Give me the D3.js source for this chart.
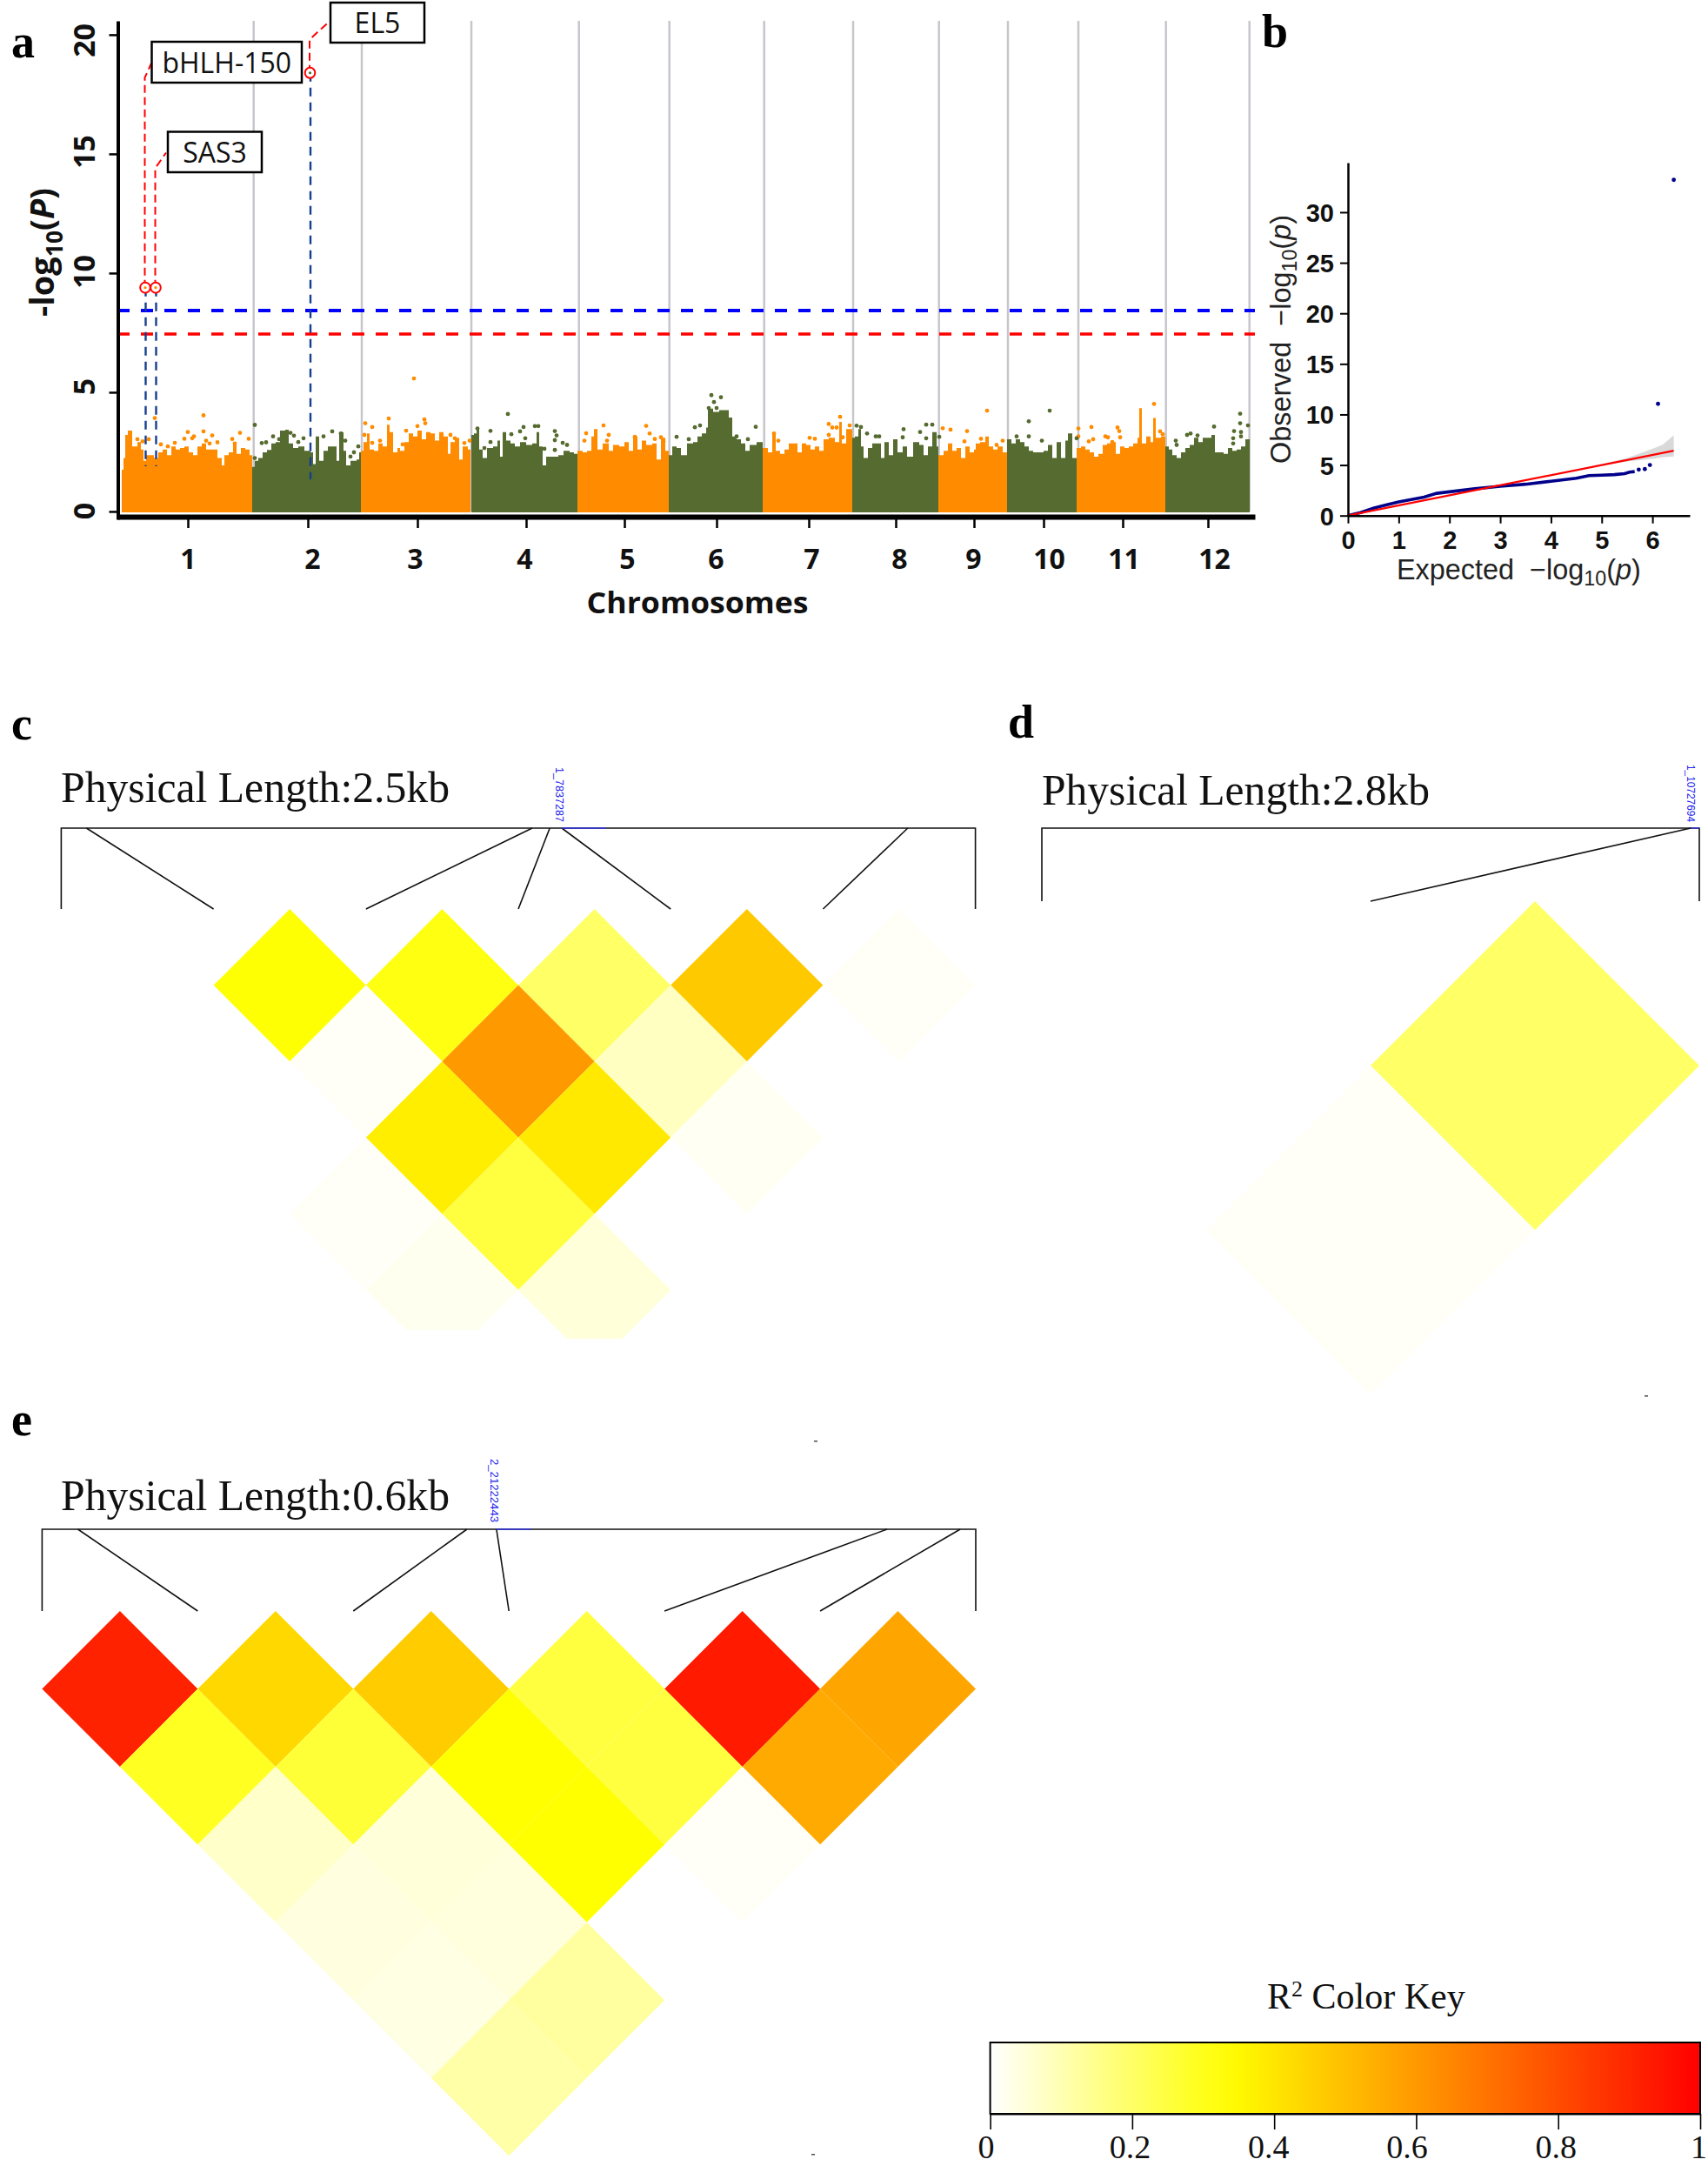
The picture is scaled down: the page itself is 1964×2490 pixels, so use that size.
<!DOCTYPE html>
<html><head><meta charset="utf-8">
<script src="https://cdn.jsdelivr.net/npm/d3@7/dist/d3.min.js"></script>
<style>html,body{margin:0;padding:0;background:#fff}svg{display:block}</style>
</head><body><svg id="c" width="1964" height="2490"></svg>
<script>
// ---------- Panel a: Manhattan plot (positions in genome units, values -log10 P) ----------
const chromosomes = ["1","2","3","4","5","6","7","8","9","10","11","12"];
const chromTicks  = [77,215,341,466,579,685,791,891,981,1061,1152,1250];
const chromLabelAt= [77,220,338,464,582,684,794,895,980,1067,1153,1257];
const chromEnds   = [152.7,277,403,526.7,630.7,739.7,842,940.7,1020,1101,1201.7,1297.7];
const yTicksA = [0,5,10,15,20];
const yTickShiftA = [-1,-7,-2,-3,6];
const blueThreshold = 8.43, redThreshold = 7.44;

const chr1Pos=[1,3,5,8,11,13,16,19,23,26,29,33,38,43,48,53,58,63,68,73,78,83,88,93,98,104,111,116,119,124,129,133,138,143,148,151];
const chr1Top=[1.75,2.24,3.21,3.39,3.39,2.73,2.73,2.91,2.6,2.12,2.36,2.36,2.24,2.48,2.6,2.36,2.73,2.6,2.66,2.73,2.48,2.36,2.73,2.85,2.6,2.6,2.24,1.93,2.36,2.48,2.85,2.42,2.66,2.6,2.36,2.36];
const chr2Pos=[151,154,158,163,168,173,178,183,189,193,198,204,211,218,221,224,228,233,238,243,248,251,256,259,264,271,274,276];
const chr2Top=[1.87,2.12,2.24,2.48,2.58,2.85,2.91,3.39,3.43,2.85,2.66,2.73,2.54,2.48,1.99,3.15,2.12,2.54,2.73,2.73,2.12,3.33,2.54,1.93,2.12,2.18,2.48,2.54];
const chr3Pos=[276,279,283,286,291,296,301,306,309,313,318,321,323,326,331,336,341,346,351,356,361,366,371,376,379,384,389,393,399,402];
const chr3Top=[2.54,2.91,3.27,2.6,2.54,2.85,2.73,3.64,3.33,2.48,2.66,2.54,2.54,2.91,3.27,3.15,3.39,3.03,3.33,3.27,2.97,3.33,3.15,2.42,2.91,3.09,2.18,2.73,2.6,2.97];
const chr4Pos=[403,406,409,412,416,421,428,433,436,439,443,448,453,459,466,473,478,481,485,489,496,503,509,516,521,525];
const chr4Top=[3.21,3.27,3.46,2.6,2.24,2.66,2.73,2.97,2.3,3.33,2.97,2.85,2.73,2.91,2.79,2.85,3.33,2.73,1.93,2.3,2.3,2.36,2.54,2.48,2.42,2.24];
const chr5Pos=[525,531,536,541,544,548,554,561,566,573,579,584,589,594,599,604,611,616,621,626,630];
const chr5Top=[2.54,2.48,2.54,3.15,3.46,2.6,2.85,2.54,2.79,2.73,2.91,2.54,3.15,2.6,2.97,2.79,2.85,2.18,3.09,2.54,2.36];
const chr6Pos=[630,634,639,644,651,658,663,668,673,675,681,688,694,699,703,708,713,718,723,731,738];
const chr6Top=[2.36,2.73,2.66,2.36,2.85,2.91,3.15,3.27,3.52,4.31,4.18,4.25,4.25,3.94,3.15,3.03,2.85,2.54,2.79,2.91,2.3];
const chr7Pos=[738,744,749,753,758,763,768,773,778,783,788,793,798,803,808,814,821,826,829,834,841];
const chr7Top=[2.66,2.48,3.33,2.54,2.42,2.6,2.85,2.85,2.48,2.85,2.79,2.6,2.73,2.54,3.03,3.09,2.91,3.76,2.85,3.46,2.97];
const chr8Pos=[841,844,848,851,854,859,864,869,874,878,883,888,893,899,904,911,918,923,928,933,938,940];
const chr8Top=[3.09,3.15,3.46,2.73,2.24,2.66,2.85,2.85,2.24,2.91,2.36,3.03,2.48,2.73,2.3,2.91,2.79,2.36,2.73,3.33,2.73,2.36];
const chr9Pos=[940,946,951,956,961,966,971,976,981,983,988,994,998,1003,1008,1014,1019];
const chr9Top=[2.36,2.54,2.85,2.54,2.66,2.24,2.73,2.48,2.6,2.85,2.91,3.15,2.73,2.6,2.73,2.48,2.36];
const chr10Pos=[1019,1024,1029,1034,1039,1044,1049,1056,1061,1066,1071,1076,1081,1086,1089,1094,1099];
const chr10Top=[3.03,2.85,3.03,2.91,2.73,2.54,2.48,2.48,2.54,2.79,2.24,2.91,2.24,2.97,3.27,2.24,2.6];
const chr11Pos=[1099,1104,1109,1114,1119,1124,1129,1134,1139,1144,1149,1154,1159,1164,1169,1171,1174,1179,1184,1187,1190,1196,1201];
const chr11Top=[2.66,2.73,2.6,2.48,2.3,2.42,2.79,2.85,2.91,2.42,2.73,2.66,2.73,2.85,3.09,4.33,2.85,3.15,2.91,3.92,3.09,3.15,2.85];
const chr12Pos=[1201,1205,1209,1214,1219,1224,1229,1234,1239,1244,1249,1254,1258,1263,1268,1273,1278,1283,1288,1293,1298];
const chr12Top=[2.73,2.6,2.36,2.24,2.48,2.66,2.79,3.09,2.91,3.09,3.09,3.21,2.48,2.48,2.42,2.66,2.54,2.6,2.73,3.03,2.6];

const orangePos=[95,39,95,77,105,84,82,73,19,25,32,98,102,111,128,137,147,46,62,54,131,
 308,281,289,280,289,298,337,349,350,341,328,379,384,395,401,324,
 555,604,535,608,561,591,533,614,621,624,559,
 827,814,818,823,838,792,798,756,751,814,830,
 945,954,973,970,996,989,1014,1007,
 1188,1101,1101,1116,1146,1148,1149,1118,1113,1132,1135,1140,1195,1198];
const orangeVal=[4.03,3.92,3.36,3.33,3.19,3.15,3.07,3.05,3.03,2.94,3.03,2.97,2.85,2.9,3.04,3.3,3.05,2.81,2.88,2.73,2.85,
 3.9,3.7,3.54,3.21,2.88,2.97,5.58,3.86,3.7,3.58,3.39,3.21,3.07,2.87,2.97,2.81,
 3.61,3.59,3.28,3.27,3.21,3.13,2.97,3.04,3.11,2.94,2.97,
 3.97,3.67,3.52,3.52,3.61,3.09,3.05,2.97,3.27,3.21,3.11,
 3.49,3.43,3.37,2.94,4.23,3.05,2.97,2.79,
 4.51,3.48,3.15,3.54,3.52,3.37,3.11,3.03,2.94,3.15,3.11,2.91,3.36,3.24];
const greenPos=[154,162,167,175,182,195,199,204,210,233,243,258,273,268,264,154,253,
 445,410,425,463,476,480,459,499,501,449,465,499,508,513,487,499,418,425,
 679,682,690,676,685,666,660,730,708,721,653,639,
 846,851,858,868,872,900,899,919,926,933,926,941,
 1068,1044,1044,1030,1059,1099,
 1287,1257,1287,1296,1280,1288,1230,1226,1238,1213,1214,1279,1288,1279];
const greenVal=[3.63,2.87,2.9,3.15,3.03,3.3,3.18,2.91,3.07,3.15,3.36,2.97,2.73,2.48,2.3,2.24,3.27,
 4.09,3.48,3.38,3.54,3.58,3.58,3.36,3.37,3.19,3.24,3.07,2.99,2.88,2.79,2.63,2.58,2.66,2.91,
 4.88,4.59,4.79,4.34,4.34,3.61,3.53,3.55,3.15,3.03,3.03,3.13,
 3.6,3.54,3.27,3.15,3.15,3.45,3.11,3.33,3.64,3.64,3.07,3.13,
 4.23,3.78,3.15,3.15,2.97,3.07,
 4.1,3.56,3.7,3.61,3.37,3.33,3.27,3.21,3.19,2.97,2.79,3.07,3.15,2.85];

const geneNames=["bHLH-150","SAS3","EL5"];
const genePos=[28,40,217.5];
const geneVal=[9.39,9.39,18.4];

// ---------- Panel b: QQ plot ----------
const qqExpected=[0,0.25,0.5,0.75,1,1.25,1.5,1.75,2,2.5,3,3.5,4,4.5,4.75,5,5.25,5.45,5.55,5.65];
const qqObserved=[0,0.3,0.72,1.05,1.35,1.58,1.82,2.2,2.35,2.65,2.9,3.1,3.4,3.7,3.95,4,4.05,4.15,4.3,4.35];
const qqOutlierX=[5.73,5.85,5.95,6.11,6.42];
const qqOutlierY=[4.55,4.6,5.0,11.05,33.2];
const ciX=[4,4.5,5,5.5,6,6.2,6.42];
const ciUpper=[4.05,4.57,5.1,5.7,6.6,7.0,7.93];
const ciLower=[3.95,4.45,4.95,5.35,5.6,5.75,5.85];
const qqTicksX=[0,1,2,3,4,5,6], qqTicksY=[0,5,10,15,20,25,30];

// ---------- Panels c, d, e: LD heatmaps (r2 by distance between SNPs) ----------
const ldC=[[0,0.33,0.31,0.2,0.475,0.01],[0,0.01,0.6,0.08,0],[0,0.377,0.39,0.015],[0.01,0.25,0],[0.02,0.05],[0]];
const ldD=[[0,0.2],[0.01]];
const ldE=[[0.91,0.435,0.467,0.25,0.932,0.569],[0.29,0.26,0.333,0.25,0.555],[0.07,0.05,0.333,0.01],[0.04,0.045,0],[0.035,0.125],[0.115]];
const mapC=[0,0.069,1.288,1.336,1.369,2.315,2.5];
const mapD=[0,2.763,2.8];
const mapE=[0,0.023,0.273,0.292,0.543,0.59,0.6];
const keyTicks=[0,0.2,0.4,0.6,0.8,1];
const keyLabelShift=[-5,-3,-7,-11,-3,-2];

// ---------- drawing ----------
const svg=d3.select("#c");
const SERIF="'Liberation Serif','Times New Roman',serif", SANS="'Liberation Sans',Arial,sans-serif", OPEN="'Open Sans',sans-serif";
const ORANGE="#ff8c00", GREEN="#556b2f";

function panelLabel(t,x,y){svg.append("text").attr("x",x).attr("y",y).text(t)
  .attr("font-family",SERIF).attr("font-weight","bold").attr("font-size",54).attr("fill","#000");}
panelLabel("a",13,66);panelLabel("b",1451,54);panelLabel("c",13,850);panelLabel("d",1159,848);panelLabel("e",13,1650);

// Panel a
const xA=d3.scaleLinear().domain([-4,1304]).range([135,1443]);
const yA=d3.scaleLinear().domain([-0.33,20.58]).range([597,24]);
const gA=svg.append("g");
gA.selectAll("line.sep").data(chromEnds).join("line").attr("x1",d=>xA(d)).attr("x2",d=>xA(d))
  .attr("y1",yA(20.58)).attr("y2",yA(0)).attr("stroke","#c6c6cc").attr("stroke-width",2.5);
const chromData=[[chr1Pos,chr1Top],[chr2Pos,chr2Top],[chr3Pos,chr3Top],[chr4Pos,chr4Top],[chr5Pos,chr5Top],[chr6Pos,chr6Top],
  [chr7Pos,chr7Top],[chr8Pos,chr8Top],[chr9Pos,chr9Top],[chr10Pos,chr10Top],[chr11Pos,chr11Top],[chr12Pos,chr12Top]];
const areaA=d3.area().x(d=>xA(d[0])).y0(yA(-0.04)).y1(d=>yA(d[1])).curve(d3.curveStepAfter);
chromData.forEach((c,i)=>{
  const pts=c[0].map((p,k)=>[p,c[1][k]]);
  gA.append("path").attr("d",areaA(pts)).attr("fill",i%2?GREEN:ORANGE);
});
gA.selectAll("circle.o").data(orangePos).join("circle").attr("cx",d=>xA(d)).attr("cy",(d,i)=>yA(orangeVal[i])).attr("r",2.4).attr("fill",ORANGE);
gA.append("g").selectAll("circle").data(greenPos).join("circle").attr("cx",d=>xA(d)).attr("cy",(d,i)=>yA(greenVal[i])).attr("r",2.4).attr("fill",GREEN);

// thresholds
[[blueThreshold,"#0000ff",4],[redThreshold,"#ff0000",3.5]].forEach(t=>{
  gA.append("line").attr("x1",xA.range()[0]).attr("x2",xA.range()[1]).attr("y1",yA(t[0])).attr("y2",yA(t[0]))
    .attr("stroke",t[1]).attr("stroke-width",t[2]).attr("stroke-dasharray","14,13");
});
// gene leaders
const leaderBottom=[1.9,1.9,1.35];
const leaderTop=[18.2,14.4,19.8];
const leaderEnd=[[7,18.8],[12,15.05],[22,20.55]];
genePos.forEach((p,i)=>{
  gA.append("line").attr("x1",xA(p)+0.5).attr("x2",xA(p)+0.5).attr("y1",yA(geneVal[i])).attr("y2",yA(leaderBottom[i]))
    .attr("stroke","#173f8f").attr("stroke-width",2.4).attr("stroke-dasharray","10,7");
  gA.append("path").attr("d",d3.line()([[xA(p)-0.5,yA(geneVal[i])],[xA(p)-0.5,yA(leaderTop[i])],[xA(p+leaderEnd[i][0]),yA(leaderEnd[i][1])]]))
    .attr("fill","none").attr("stroke","#ff0000").attr("stroke-width",2).attr("stroke-dasharray","9,5");
  gA.append("ellipse").attr("cx",xA(p)).attr("cy",yA(geneVal[i])).attr("rx",5.8).attr("ry",6)
    .attr("fill","#fff").attr("stroke","#ff0000").attr("stroke-width",2);
  gA.append("circle").attr("cx",xA(p)).attr("cy",yA(geneVal[i])).attr("r",1.6).attr("fill",i==2?GREEN:ORANGE);
});
// gene boxes
const boxX=[[174.5,347],[193,301],[380,488]], boxY=[[48,95],[151.5,198],[3,49]], textBase=[84,187,38];
geneNames.forEach((n,i)=>{
  gA.append("rect").attr("x",boxX[i][0]).attr("y",boxY[i][0]).attr("width",boxX[i][1]-boxX[i][0]).attr("height",boxY[i][1]-boxY[i][0])
    .attr("fill","#fff").attr("stroke","#000").attr("stroke-width",2.5);
  gA.append("text").attr("x",(boxX[i][0]+boxX[i][1])/2).attr("y",textBase[i]).attr("text-anchor","middle")
    .attr("font-family",OPEN).attr("font-size",32).attr("fill","#111").text(n);
});
// axes a
const axLA=gA.append("g").attr("transform","translate(135.5,0)").call(d3.axisLeft(yA).tickValues(yTicksA).tickSize(10).tickSizeOuter(0));
axLA.select(".domain").attr("stroke","#000").attr("stroke-width",4);
axLA.selectAll(".tick line").attr("stroke","#000").attr("stroke-width",2.5);
axLA.selectAll(".tick text").attr("x",null).attr("dy",null).attr("text-anchor","middle")
  .attr("transform",(d,i)=>`translate(-27,${yTickShiftA[i]}) rotate(-90)`).attr("font-family",OPEN).attr("font-weight",700).attr("font-size",34).attr("fill","#111");
const axBA=gA.append("g").attr("transform","translate(0,594)").call(d3.axisBottom(xA).tickValues(chromTicks).tickFormat((d,i)=>chromosomes[i]).tickSize(13).tickSizeOuter(0));
axBA.select(".domain").attr("stroke","#000").attr("stroke-width",6);
axBA.selectAll(".tick line").attr("stroke","#000").attr("stroke-width",2.5);
axBA.selectAll(".tick text").attr("y",60).attr("dy",null).attr("x",(d,i)=>chromLabelAt[i]-d)
  .attr("font-family",OPEN).attr("font-weight",700).attr("font-size",32).attr("fill","#111");
svg.append("text").attr("x",802).attr("y",705).attr("text-anchor","middle").attr("font-family",OPEN).attr("font-weight",700)
  .attr("font-size",34).attr("fill","#111").attr("textLength",255).attr("lengthAdjust","spacingAndGlyphs").text("Chromosomes");

// composite labels, scaled to a measured target length
function fitted(x,y,angle,target,build){
  const t=svg.append("text");
  build(t);
  const k=target/t.node().getComputedTextLength();
  t.attr("transform",`translate(${x},${y}) rotate(${angle}) scale(${k})`);
  return t;
}
fitted(62,364,-90,148,t=>{
  t.attr("font-family",OPEN).attr("font-weight",700).attr("font-size",36).attr("fill","#111");
  t.append("tspan").text("-log");
  t.append("tspan").attr("font-size",25).attr("dy",9).text("10");
  t.append("tspan").attr("dy",-9).text("(");
  t.append("tspan").attr("font-style","italic").text("P");
  t.append("tspan").text(")");
});

// Panel b
const xB=d3.scaleLinear().domain([0,6.735]).range([1550,1943]);
const yB=d3.scaleLinear().domain([0,34.9]).range([592.7,187]);
const gB=svg.append("g");
gB.append("path").attr("d",d3.area().x(d=>xB(d[0])).y0(d=>yB(d[1])).y1(d=>yB(d[2]))(ciX.map((x,i)=>[x,ciLower[i],ciUpper[i]])))
  .attr("fill","#d9d9d9");
gB.append("path").attr("d",d3.line().x(d=>xB(d[0])).y(d=>yB(d[1]))(qqExpected.map((x,i)=>[x,qqObserved[i]])))
  .attr("fill","none").attr("stroke","#00008b").attr("stroke-width",3.6);
gB.selectAll("circle").data(qqOutlierX).join("circle").attr("cx",d=>xB(d)).attr("cy",(d,i)=>yB(qqOutlierY[i])).attr("r",2.4).attr("fill","#00008b");
gB.append("line").attr("x1",xB(0)).attr("y1",yB(0)).attr("x2",xB(6.42)).attr("y2",yB(6.42)).attr("stroke","#ff0000").attr("stroke-width",2.2);
const axLB=gB.append("g").attr("transform","translate(1550,0)").call(d3.axisLeft(yB).tickValues(qqTicksY).tickFormat(d3.format("d")).tickSize(9).tickSizeOuter(0));
const axBB=gB.append("g").attr("transform","translate(0,592.7)").call(d3.axisBottom(xB).tickValues(qqTicksX).tickFormat(d3.format("d")).tickSize(9).tickSizeOuter(0));
[axLB,axBB].forEach(a=>{a.select(".domain").attr("stroke","#000").attr("stroke-width",2.5);
  a.selectAll(".tick line").attr("stroke","#000").attr("stroke-width",2);
  a.selectAll(".tick text").attr("font-family",SANS).attr("font-weight",700).attr("font-size",29).attr("fill","#111");});
axLB.selectAll(".tick text").attr("x",-16).attr("dy","0.36em");
axBB.selectAll(".tick text").attr("y",38.5).attr("dy",null);
function qqLabel(word){return t=>{
  t.attr("font-family",SANS).attr("font-size",32).attr("fill","#222");
  t.append("tspan").text(word+"\u00a0\u00a0\u2212log");
  t.append("tspan").attr("font-size",23).attr("dy",7).text("10");
  t.append("tspan").attr("dy",-7).text("(");
  t.append("tspan").attr("font-style","italic").text("p");
  t.append("tspan").text(")");
};}
fitted(1606,666,0,281,qqLabel("Expected"));
fitted(1484,533,-90,286,qqLabel("Observed"));

// LD heatmaps
const colorR2=d3.scaleLinear().domain([0,1/3,1]).range(["#ffffff","#ffff00","#ff0000"]);
function ldPanel(o){
  const g=svg.append("g");
  const n=o.map.length;
  const xi=d3.scaleLinear().domain([0,n-1]).range([o.left,o.right]);
  const xm=d3.scaleLinear().domain([0,o.length]).range([o.left,o.right]);
  const half=(o.right-o.left)/(n-1)/2;
  const yr=d3.scaleLinear().domain([0,1]).range([o.bottom,o.bottom+half]);
  const dline=d3.line().x(d=>d[0]).y(d=>d[1]);
  o.ld.forEach((row,r)=>row.forEach((v,i)=>{
    const j=i+r+1, cx=(xi(i)+xi(j))/2, cy=yr(r+1);
    if(v>0) g.append("path").attr("d",dline([[cx,cy-half],[cx+half,cy],[cx,cy+half],[cx-half,cy]])+"Z").attr("fill",colorR2(v));
  }));
  (o.clips||[]).forEach(c=>g.append("rect").attr("x",c[0]).attr("y",c[1]).attr("width",c[2]).attr("height",c[3]).attr("fill","#fff"));
  g.append("path").attr("d",dline([[o.left,o.bottom],[o.left,o.top],[o.right,o.top],[o.right,o.bottom]])).attr("fill","none").attr("stroke","#111").attr("stroke-width",1.6);
  o.map.forEach((m,i)=>{ if(i===0||i===n-1) return;
    g.append("line").attr("x1",xm(m)).attr("y1",o.top).attr("x2",xi(i)).attr("y2",o.bottom).attr("stroke","#111").attr("stroke-width",1.6);
  });
  g.append("line").attr("x1",xm(o.map[o.snp])).attr("x2",xm(o.map[o.snp])+o.blue).attr("y1",o.top).attr("y2",o.top).attr("stroke","#3030e0").attr("stroke-width",1.4);
  g.append("text").attr("x",o.titleX).attr("y",o.titleY).attr("font-family",SERIF).attr("font-size",50).attr("fill","#111")
    .attr("textLength",o.titleLen).attr("lengthAdjust","spacingAndGlyphs").text("Physical Length:"+o.length+"kb");
  g.append("text").attr("transform",`translate(${o.snpX},${o.snpY}) rotate(90)`).attr("font-family",SANS).attr("font-size",13).attr("fill","#2222ee")
    .attr("textLength",o.snpLen).attr("lengthAdjust","spacingAndGlyphs").text(o.snpName);
}
ldPanel({ld:ldC,map:mapC,length:2.5,left:70.4,right:1121.6,top:952,bottom:1045,titleX:70,titleY:922,titleLen:447,snp:4,blue:51,snpName:"1_7837287",snpX:639,snpY:882,snpLen:63,
  clips:[[420,1529,176,60],[596,1539,176,60]]});
ldPanel({ld:ldD,map:mapD,length:2.8,left:1198,right:1954,top:952,bottom:1036,titleX:1198,titleY:925,titleLen:446,snp:1,blue:10,snpName:"1_10727694",snpX:1940,snpY:879,snpLen:66});
ldPanel({ld:ldE,map:mapE,length:0.6,left:48.4,right:1122,top:1758,bottom:1852,titleX:70,titleY:1736,titleLen:447,snp:3,blue:40,snpName:"2_21222443",snpX:564,snpY:1677,snpLen:73});

// specks
[[1893,1605],[938,1657],[935,2477]].forEach(p=>svg.append("rect").attr("x",p[0]-2).attr("y",p[1]-1).attr("width",4).attr("height",1.6).attr("fill","#555"));

// Colour key
const xK=d3.scaleLinear().domain([0,1]).range([1138.6,1955]);
const defs=svg.append("defs");
const grad=defs.append("linearGradient").attr("id","keyGrad");
d3.range(0,1.0001,0.05).forEach(t=>grad.append("stop").attr("offset",t).attr("stop-color",colorR2(t)));
svg.append("rect").attr("x",xK(0)).attr("y",2348).attr("width",xK(1)-xK(0)).attr("height",82).attr("fill","url(#keyGrad)").attr("stroke","#000").attr("stroke-width",2);
const axK=svg.append("g").attr("transform","translate(0,2430)").call(d3.axisBottom(xK).tickValues(keyTicks).tickFormat(d3.format("~g")).tickSize(18).tickSizeOuter(0));
axK.select(".domain").attr("stroke","#000").attr("stroke-width",2);
axK.selectAll(".tick line").attr("stroke","#000").attr("stroke-width",1.6);
axK.selectAll(".tick text").attr("y",51).attr("dy",null).attr("x",(d,i)=>keyLabelShift[i]).attr("font-family",SERIF).attr("font-size",38).attr("fill","#111");
const kt=svg.append("text").attr("x",1457).attr("y",2309).attr("font-family",SERIF).attr("font-size",42).attr("fill","#111");
kt.append("tspan").text("R");
kt.append("tspan").attr("font-size",26).attr("dy",-14).text("2");
kt.append("tspan").attr("dy",14).text(" Color Key");
</script></body></html>
